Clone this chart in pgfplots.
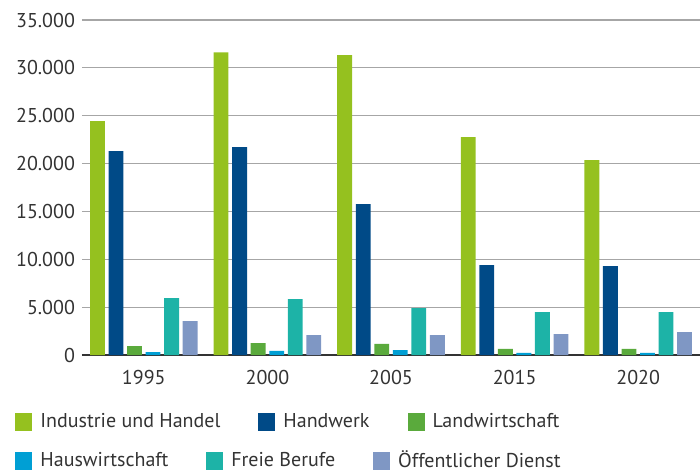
\documentclass[border=0pt]{standalone}
\usepackage{fontspec}
\setmainfont{PT Sans}
\usepackage{pgfplots}
\pgfplotsset{compat=1.18}

\definecolor{cIH}{HTML}{95C11F}
\definecolor{cHW}{HTML}{004A87}
\definecolor{cLW}{HTML}{5AAA3C}
\definecolor{cHS}{HTML}{009FD4}
\definecolor{cFB}{HTML}{1DB3A7}
\definecolor{cOD}{HTML}{7F97C4}
\definecolor{txt}{HTML}{333333}

\pgfplotsset{
  sq legend/.style={legend image code/.code={\fill[##1] (0pt,-4.5pt) rectangle (8.5pt,4.5pt);}},
  base/.style={
    width=309pt, height=167.5pt, scale only axis,
    xmin=-0.5, xmax=4.5, ymin=0, ymax=35000,
    enlargelimits=false,
    legend columns=-1,
    legend cell align=left,
    legend style={draw=none, fill=none, inner sep=0pt, font=\fontsize{10}{12}\selectfont\color{txt},
      at={(0,0)}, anchor=west,
      nodes={inner sep=0pt},
      /tikz/every odd column/.append style={column sep=4pt},
      /tikz/every even column/.append style={column sep=19pt}},
  },
}

\begin{document}
\begin{tikzpicture}
\useasboundingbox (-41pt,-58pt) rectangle (309pt,177.5pt);
\begin{axis}[base,
  axis x line*=bottom, axis y line*=left,
  x axis line style={-, draw=black!80, line width=0.8pt},
  y axis line style={draw=none},
  ymajorgrids, grid style={draw=black!35, line width=0.6pt},
  major tick length=0pt,
  xtick={0,...,4}, xticklabels={1995,2000,2005,2015,2020},
  ytick={0,5000,...,35000},
  scaled y ticks=false,
  yticklabel style={/pgf/number format/.cd, 1000 sep={.}, assume math mode=true},
  ticklabel style={font=\fontsize{10}{12}\selectfont, text=txt},
  xticklabel style={yshift=-4pt},
  sq legend,
  legend style={xshift=-33.5pt, yshift=-33.5pt},
]
\addplot[ybar, bar width=0.12, bar shift=-0.375, fill=cIH, draw=none]
  coordinates {(0,24430) (1,31630) (2,31320) (3,22760) (4,20360)};
\addlegendentry{Industrie und Handel}
\addplot[ybar, bar width=0.12, bar shift=-0.225, fill=cHW, draw=none]
  coordinates {(0,21300) (1,21720) (2,15760) (3,9400) (4,9290)};
\addlegendentry{Handwerk}
\addplot[ybar, bar width=0.12, bar shift=-0.075, fill=cLW, draw=none]
  coordinates {(0,940) (1,1250) (2,1150) (3,630) (4,630)};
\addlegendentry{Landwirtschaft}
\addplot[ybar, bar width=0.12, bar shift=0.075, fill=cHS, draw=none, forget plot]
  coordinates {(0,310) (1,420) (2,520) (3,210) (4,210)};
\addplot[ybar, bar width=0.12, bar shift=0.225, fill=cFB, draw=none, forget plot]
  coordinates {(0,5950) (1,5850) (2,4910) (3,4490) (4,4490)};
\addplot[ybar, bar width=0.12, bar shift=0.375, fill=cOD, draw=none, forget plot]
  coordinates {(0,3550) (1,2090) (2,2090) (3,2190) (4,2400)};
\end{axis}
\begin{axis}[base, hide axis, sq legend,
  legend style={xshift=-33.5pt, yshift=-53pt}]
\addlegendimage{fill=cHS, draw=none}
\addlegendentry{Hauswirtschaft}
\addlegendimage{fill=cFB, draw=none}
\addlegendentry{Freie Berufe}
\addlegendimage{fill=cOD, draw=none}
\addlegendentry{Öffentlicher Dienst}
\end{axis}
\end{tikzpicture}
\end{document}
